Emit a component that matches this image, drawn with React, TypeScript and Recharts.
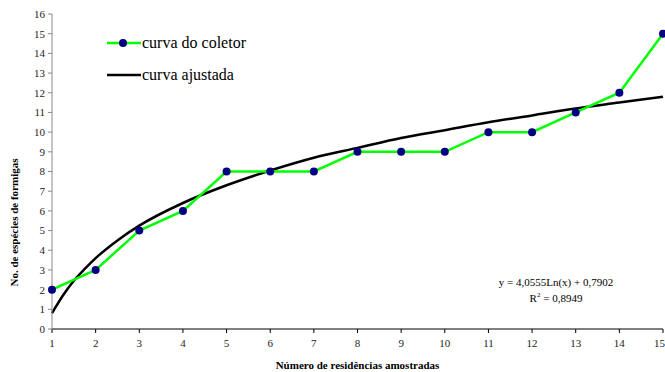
import React from 'react'
import { LineChart, Line, XAxis, YAxis, Label } from 'recharts'

// amostras (número de residências)
const residencias = [1, 2, 3, 4, 5, 6, 7, 8, 9, 10, 11, 12, 13, 14, 15]
// curva do coletor: nº de espécies acumuladas
const especies = [2, 3, 5, 6, 8, 8, 8, 9, 9, 9, 10, 10, 11, 12, 15]

// curva ajustada
const ajusteX = [1, 1.25, 1.5, 1.75, 2, 2.5, 3, 4, 5, 6, 7, 8, 9, 10, 11, 12, 13, 14, 15]
const ajusteY = [0.8, 1.7, 2.45, 3.05, 3.6, 4.5, 5.25, 6.4, 7.3, 8.05, 8.7, 9.2, 9.7, 10.1, 10.5, 10.85, 11.2, 11.5, 11.8]

const yTicks = [0, 1, 2, 3, 4, 5, 6, 7, 8, 9, 10, 11, 12, 13, 14, 15, 16]

const equacao = 'y = 4,0555Ln(x) + 0,7902'
const r2 = '0,8949'

const coletorData = residencias.map((x, i) => ({ x, y: especies[i] }))
const ajusteData = ajusteX.map((x, i) => ({ x, y: ajusteY[i] }))

const FONT = '"Liberation Serif", "Times New Roman", serif'
const GREEN = '#00ff00'
const NAVY = '#000080'

const LegendBox = () => (
  <div style={{ position: 'absolute', left: 107, top: 31, fontFamily: FONT, fontSize: 16, color: '#000' }}>
    <div style={{ display: 'flex', alignItems: 'center', height: 24 }}>
      <svg width={34} height={12}>
        <line x1={0} y1={6} x2={34} y2={6} stroke={GREEN} strokeWidth={2.5} />
        <circle cx={16} cy={6} r={4} fill={NAVY} />
      </svg>
      <span style={{ marginLeft: 1 }}>curva do coletor</span>
    </div>
    <div style={{ display: 'flex', alignItems: 'center', height: 24, marginTop: 8 }}>
      <svg width={34} height={12}>
        <line x1={0} y1={6} x2={34} y2={6} stroke="#000" strokeWidth={2.5} />
      </svg>
      <span style={{ marginLeft: 1 }}>curva ajustada</span>
    </div>
  </div>
)

export default function App() {
  const tick = { fontSize: 11, fill: '#222', fontFamily: FONT }
  return (
    <div style={{ position: 'absolute', left: 0, top: 0, width: 665, height: 372, background: '#fff', fontFamily: FONT }}>
      <LineChart width={665} height={372} margin={{ top: 14, right: 2, left: 0, bottom: 0 }}>
        <XAxis
          dataKey="x"
          type="number"
          domain={[1, 15]}
          ticks={residencias}
          allowDuplicatedCategory={false}
          height={43}
          stroke="#000"
          tickSize={4}
          tick={tick}
          tickMargin={6}
        >
          <Label
            value="Número de residências amostradas"
            position="insideBottom"
            offset={3}
            style={{ fontSize: 11, fontWeight: 'bold', fill: '#000', fontFamily: FONT }}
          />
        </XAxis>
        <YAxis
          type="number"
          domain={[0, 16]}
          ticks={yTicks}
          interval={0}
          width={52}
          stroke="#888"
          tickSize={4}
          tick={tick}
          tickMargin={3}
        >
          <Label
            value="No. de espécies de formigas"
            angle={-90}
            position="center"
            dx={-12}
            dy={51}
            style={{ fontSize: 11, fontWeight: 'bold', fill: '#000', fontFamily: FONT }}
          />
        </YAxis>
        <Line
          data={ajusteData}
          dataKey="y"
          type="monotone"
          stroke="#000"
          strokeWidth={2.5}
          dot={false}
          activeDot={false}
          isAnimationActive={false}
        />
        <Line
          data={coletorData}
          dataKey="y"
          type="linear"
          stroke={GREEN}
          strokeWidth={2.5}
          dot={{ r: 4, fill: NAVY, stroke: NAVY, strokeWidth: 0 }}
          activeDot={false}
          isAnimationActive={false}
        />
      </LineChart>
      <LegendBox />
      <div
        style={{
          position: 'absolute',
          left: 476,
          top: 274,
          width: 160,
          textAlign: 'center',
          fontSize: 11,
          lineHeight: '16px',
          color: '#000',
        }}
      >
        <div>{equacao}</div>
        <div>
          R<sup style={{ fontSize: 7, verticalAlign: 'top', lineHeight: '10px' }}>2</sup> = {r2}
        </div>
      </div>
    </div>
  )
}
